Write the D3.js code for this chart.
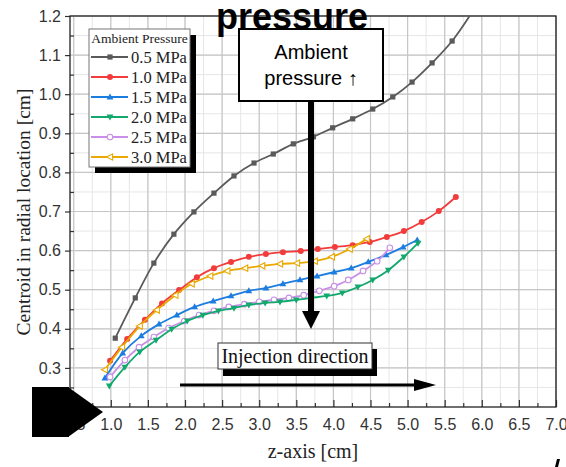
<!DOCTYPE html>
<html>
<head>
<meta charset="utf-8">
<script src="https://cdn.jsdelivr.net/npm/d3@7"></script>
<style>
  body { margin: 0; background: #fff; }
  svg { display: block; }
</style>
</head>
<body>
<div id="chart"></div>
<script>
// values
var seriesNames = ['0.5 MPa', '1.0 MPa', '1.5 MPa', '2.0 MPa', '2.5 MPa', '3.0 MPa'];

var x05 = [1.06, 1.33, 1.58, 1.85, 2.12, 2.39, 2.66, 2.93, 3.19, 3.46, 3.73, 3.99, 4.26, 4.53, 4.80, 5.06, 5.33, 5.60, 5.87];
var y05 = [0.376, 0.479, 0.568, 0.642, 0.699, 0.747, 0.791, 0.824, 0.847, 0.873, 0.891, 0.914, 0.937, 0.962, 0.993, 1.031, 1.080, 1.136, 1.21];

var x10 = [0.99, 1.22, 1.46, 1.69, 1.92, 2.16, 2.39, 2.62, 2.86, 3.09, 3.32, 3.56, 3.79, 4.02, 4.26, 4.49, 4.72, 4.95, 5.19, 5.42, 5.65];
var y10 = [0.318, 0.374, 0.423, 0.465, 0.499, 0.532, 0.555, 0.571, 0.584, 0.591, 0.596, 0.599, 0.604, 0.609, 0.614, 0.622, 0.635, 0.650, 0.673, 0.701, 0.737];

var x15 = [0.92, 1.16, 1.41, 1.65, 1.89, 2.13, 2.38, 2.62, 2.86, 3.09, 3.32, 3.55, 3.78, 4.01, 4.24, 4.47, 4.71, 4.94, 5.13];
var y15 = [0.274, 0.338, 0.382, 0.412, 0.435, 0.456, 0.471, 0.484, 0.497, 0.504, 0.515, 0.525, 0.535, 0.545, 0.555, 0.571, 0.589, 0.609, 0.627];

var x20 = [0.98, 1.19, 1.39, 1.61, 1.82, 2.03, 2.24, 2.45, 2.66, 2.86, 3.08, 3.28, 3.50, 3.70, 3.91, 4.12, 4.33, 4.53, 4.74, 4.95, 5.14];
var y20 = [0.254, 0.302, 0.341, 0.371, 0.399, 0.420, 0.435, 0.446, 0.453, 0.461, 0.466, 0.469, 0.474, 0.479, 0.484, 0.492, 0.507, 0.525, 0.550, 0.584, 0.619];

var x25 = [0.99, 1.19, 1.38, 1.58, 1.78, 1.99, 2.19, 2.39, 2.59, 2.80, 3.00, 3.20, 3.40, 3.60, 3.81, 4.01, 4.20, 4.40, 4.59, 4.76];
var y25 = [0.277, 0.320, 0.353, 0.379, 0.402, 0.420, 0.435, 0.446, 0.456, 0.463, 0.469, 0.474, 0.479, 0.486, 0.497, 0.509, 0.525, 0.548, 0.573, 0.607];

var x30 = [0.92, 1.15, 1.39, 1.62, 1.87, 2.09, 2.34, 2.57, 2.81, 3.04, 3.28, 3.51, 3.75, 3.98, 4.22, 4.45];
var y30 = [0.295, 0.353, 0.407, 0.448, 0.486, 0.515, 0.535, 0.548, 0.555, 0.561, 0.566, 0.568, 0.573, 0.584, 0.604, 0.630];

var xTicks = [0.5, 1.0, 1.5, 2.0, 2.5, 3.0, 3.5, 4.0, 4.5, 5.0, 5.5, 6.0, 6.5, 7.0];
var yTicks = [0.3, 0.4, 0.5, 0.6, 0.7, 0.8, 0.9, 1.0, 1.1, 1.2];

var colors = ['#5a5a5a', '#f23b3b', '#1c7de0', '#13a86e', '#c98fe6', '#e9a900'];
var markers = ['square', 'circle', 'triUp', 'triDown', 'openCircle', 'openLeft'];

var W = 566, H = 467;
var plotL = 70, plotR = 556, plotT = 16, plotB = 407;

var svg = d3.select('#chart').append('svg')
    .attr('width', W)
    .attr('height', H);

var x = d3.scaleLinear().domain([0.45, 7.0]).range([plotL, plotR]);
var y = d3.scaleLinear().domain([0.2, 1.2]).range([plotB, plotT]);

function drawGrid() {
  var g = svg.append('g');
  var minorX = d3.range(0.5, 7.01, 0.25);
  var minorY = d3.range(0.25, 1.2, 0.05);

  g.selectAll('.mx').data(minorX).enter().append('line')
      .attr('x1', function(d) { return x(d); })
      .attr('x2', function(d) { return x(d); })
      .attr('y1', plotT).attr('y2', plotB)
      .attr('stroke', '#e6e6e6').attr('stroke-width', 1);

  g.selectAll('.my').data(minorY).enter().append('line')
      .attr('y1', function(d) { return y(d); })
      .attr('y2', function(d) { return y(d); })
      .attr('x1', plotL).attr('x2', plotR)
      .attr('stroke', '#e6e6e6').attr('stroke-width', 1);

  g.selectAll('.gx').data(xTicks).enter().append('line')
      .attr('x1', function(d) { return x(d); })
      .attr('x2', function(d) { return x(d); })
      .attr('y1', plotT).attr('y2', plotB)
      .attr('stroke', '#c6c6c6').attr('stroke-width', 1.2);

  g.selectAll('.gy').data(yTicks).enter().append('line')
      .attr('y1', function(d) { return y(d); })
      .attr('y2', function(d) { return y(d); })
      .attr('x1', plotL).attr('x2', plotR)
      .attr('stroke', '#c6c6c6').attr('stroke-width', 1.2);
}

function drawAxes() {
  var xAxis = svg.append('g')
      .attr('transform', 'translate(0,' + plotB + ')')
      .call(d3.axisBottom(x).tickValues(xTicks).tickSize(-7).tickPadding(12)
        .tickFormat(d3.format('.1f')));
  xAxis.select('.domain').remove();

  var xMinor = svg.append('g')
      .attr('transform', 'translate(0,' + plotB + ')')
      .call(d3.axisBottom(x).tickValues(d3.range(0.75, 7, 0.5)).tickSize(-4).tickFormat(''));
  xMinor.select('.domain').remove();

  var yAxis = svg.append('g')
      .attr('transform', 'translate(' + plotL + ',0)')
      .call(d3.axisLeft(y).tickValues(yTicks).tickSize(5).tickPadding(4)
        .tickFormat(d3.format('.1f')));
  yAxis.select('.domain').remove();

  var yMinor = svg.append('g')
      .attr('transform', 'translate(' + plotL + ',0)')
      .call(d3.axisLeft(y).tickValues(d3.range(0.25, 1.2, 0.1)).tickSize(-4).tickFormat(''));
  yMinor.select('.domain').remove();

  svg.selectAll('.tick text')
      .attr('font-family', 'Arial, "Liberation Sans", sans-serif')
      .attr('font-size', '16px')
      .attr('fill', '#333');
  svg.selectAll('.tick line').attr('stroke', '#333').attr('stroke-width', 1.2);

  svg.append('rect')
      .attr('x', plotL).attr('y', plotT)
      .attr('width', plotR - plotL).attr('height', plotB - plotT)
      .attr('fill', 'none')
      .attr('stroke', '#222')
      .attr('stroke-width', 1.3);

  svg.append('text')
      .attr('x', 313).attr('y', 458)
      .attr('text-anchor', 'middle')
      .attr('font-family', '"Liberation Serif", "Times New Roman", serif')
      .attr('font-size', '20px')
      .attr('fill', '#222')
      .text('z-axis [cm]');

  svg.append('text')
      .attr('transform', 'translate(30,212) rotate(-90)')
      .attr('text-anchor', 'middle')
      .attr('font-family', '"Liberation Serif", "Times New Roman", serif')
      .attr('font-size', '19.5px')
      .attr('fill', '#222')
      .text('Centroid in radial location [cm]');
}

function drawMarker(g, kind, cx, cy, color) {
  if (kind === 'square') {
    g.append('rect').attr('x', cx - 2.6).attr('y', cy - 2.6).attr('width', 5.2).attr('height', 5.2)
      .attr('fill', color);
  } else if (kind === 'circle') {
    g.append('circle').attr('cx', cx).attr('cy', cy).attr('r', 3).attr('fill', color);
  } else if (kind === 'openCircle') {
    g.append('circle').attr('cx', cx).attr('cy', cy).attr('r', 2.8)
      .attr('fill', '#fff').attr('stroke', color).attr('stroke-width', 1.1);
  } else if (kind === 'triUp') {
    g.append('path').attr('d', 'M' + cx + ',' + (cy - 3.6) + 'L' + (cx + 3.4) + ',' + (cy + 2.4) + 'L' + (cx - 3.4) + ',' + (cy + 2.4) + 'Z')
      .attr('fill', color);
  } else if (kind === 'triDown') {
    g.append('path').attr('d', 'M' + cx + ',' + (cy + 3.6) + 'L' + (cx + 3.4) + ',' + (cy - 2.4) + 'L' + (cx - 3.4) + ',' + (cy - 2.4) + 'Z')
      .attr('fill', color);
  } else if (kind === 'openLeft') {
    g.append('path').attr('d', 'M' + (cx - 3.4) + ',' + cy + 'L' + (cx + 2.6) + ',' + (cy - 3.2) + 'L' + (cx + 2.6) + ',' + (cy + 3.2) + 'Z')
      .attr('fill', '#fff').attr('stroke', color).attr('stroke-width', 1.1);
  }
}

function drawSeries() {
  svg.append('clipPath').attr('id', 'plot-clip')
    .append('rect').attr('x', plotL).attr('y', plotT).attr('width', plotR - plotL).attr('height', plotB - plotT);

  var all = [[x05, y05], [x10, y10], [x15, y15], [x20, y20], [x25, y25], [x30, y30]];
  var order = [0, 1, 5, 2, 4, 3];

  var line = d3.line()
      .x(function(d) { return x(d[0]); })
      .y(function(d) { return y(d[1]); })
      .curve(d3.curveCatmullRom.alpha(0.5));

  var plot = svg.append('g').attr('clip-path', 'url(#plot-clip)');

  order.forEach(function(i) {
    var pts = all[i][0].map(function(v, k) { return [v, all[i][1][k]]; });
    var g = plot.append('g');
    g.append('path')
        .datum(pts)
        .attr('d', line)
        .attr('fill', 'none')
        .attr('stroke', colors[i])
        .attr('stroke-width', 1.8);
    pts.forEach(function(p) {
      drawMarker(g, markers[i], x(p[0]), y(p[1]), colors[i]);
    });
  });
}

function drawLegend() {
  var lx = 89, ly = 29, lw = 101, lh = 138;
  svg.append('rect').attr('x', lx + 6).attr('y', ly + 6).attr('width', lw).attr('height', lh).attr('fill', '#000');
  svg.append('rect').attr('x', lx).attr('y', ly).attr('width', lw).attr('height', lh)
      .attr('fill', '#fff').attr('stroke', '#777').attr('stroke-width', 1);

  svg.append('text')
      .attr('x', lx + lw / 2).attr('y', ly + 14)
      .attr('text-anchor', 'middle')
      .attr('font-family', '"Liberation Serif", "Times New Roman", serif')
      .attr('font-size', '13.5px')
      .attr('fill', '#222')
      .text('Ambient Pressure');

  seriesNames.forEach(function(name, i) {
    var cy = 57 + i * 20;
    var g = svg.append('g');
    g.append('line').attr('x1', 91).attr('x2', 128).attr('y1', cy).attr('y2', cy)
        .attr('stroke', colors[i]).attr('stroke-width', 1.8);
    drawMarker(g, markers[i], 110, cy, colors[i]);
    g.append('text')
        .attr('x', 131).attr('y', cy + 5.5)
        .attr('font-family', '"Liberation Serif", "Times New Roman", serif')
        .attr('font-size', '16.5px')
        .attr('fill', '#222')
        .text(name);
  });
}

function drawNotes() {
  // clipped heading at the top
  svg.append('text')
      .attr('x', 216).attr('y', 29)
      .attr('font-family', 'Arial, "Liberation Sans", sans-serif')
      .attr('font-weight', 'bold')
      .attr('font-size', '36px')
      .attr('fill', '#000')
      .text('pressure');

  // vertical arrow
  svg.append('rect').attr('x', 308).attr('y', 100).attr('width', 6).attr('height', 212).attr('fill', '#000');
  svg.append('path').attr('d', 'M302,311L320,311L311,329Z').attr('fill', '#000');

  svg.append('rect').attr('x', 239).attr('y', 29).attr('width', 144).attr('height', 72)
      .attr('fill', '#fff').attr('stroke', '#000').attr('stroke-width', 2);
  svg.append('text').attr('x', 311).attr('y', 59).attr('text-anchor', 'middle')
      .attr('font-family', 'Arial, "Liberation Sans", sans-serif').attr('font-size', '20px')
      .text('Ambient');
  svg.append('text').attr('x', 311).attr('y', 85).attr('text-anchor', 'middle')
      .attr('font-family', 'Arial, "Liberation Sans", sans-serif').attr('font-size', '20px')
      .text('pressure \u2191');

  // injection direction
  svg.append('rect').attr('x', 223).attr('y', 349).attr('width', 154).attr('height', 27).attr('fill', '#000');
  svg.append('rect').attr('x', 218).attr('y', 343).attr('width', 154).attr('height', 26)
      .attr('fill', '#fff').attr('stroke', '#333').attr('stroke-width', 1);
  svg.append('text').attr('x', 295).attr('y', 363).attr('text-anchor', 'middle')
      .attr('font-family', '"Liberation Serif", "Times New Roman", serif').attr('font-size', '20px')
      .attr('fill', '#111')
      .text('Injection direction');

  svg.append('line').attr('x1', 180).attr('x2', 418).attr('y1', 385).attr('y2', 385)
      .attr('stroke', '#000').attr('stroke-width', 3);
  svg.append('path').attr('d', 'M414,379L436,385L414,391Z').attr('fill', '#000');

  // black pointer at the bottom left
  svg.append('rect').attr('x', 32).attr('y', 387).attr('width', 37).attr('height', 50).attr('fill', '#000');
  svg.append('path').attr('d', 'M68,387L103,412L68,437Z').attr('fill', '#000');

  // cut-off mark at the bottom right
  svg.append('path').attr('d', 'M557,459L560,459L558,467L555,467Z').attr('fill', '#000');
}

drawGrid();
drawAxes();
drawSeries();
drawLegend();
drawNotes();
</script>
</body>
</html>
